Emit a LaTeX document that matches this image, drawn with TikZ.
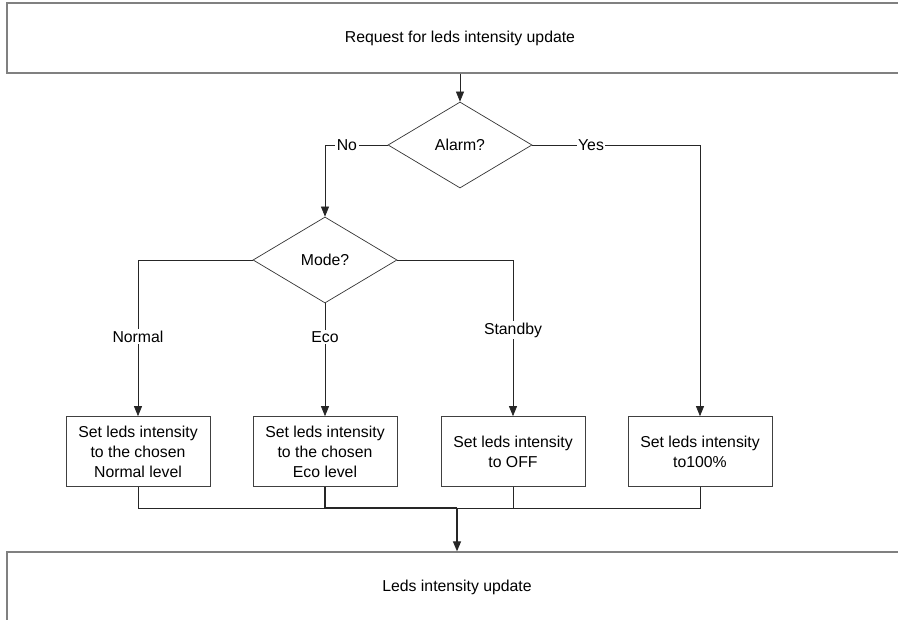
\documentclass[tikz,border=0pt]{standalone}
\usepackage{fontspec}
\setmainfont{Liberation Sans}
\usetikzlibrary{positioning,arrows.meta,shapes.geometric}

\begin{document}
\begin{tikzpicture}[
    x=1pt, y=-1pt,
    every node/.style={font=\fontsize{15.8}{20}\selectfont},
    banner/.style={rectangle, draw=black!50, line width=1.3pt, minimum height=70pt, inner sep=0pt},
    action/.style={rectangle, draw=black!75, line width=0.7pt, minimum width=144pt, minimum height=70pt, align=center, inner sep=2pt},
    decision/.style={diamond, draw=black!80, line width=0.7pt, minimum width=144pt, minimum height=86pt, inner sep=0pt},
    flow/.style={draw=black!85, line width=0.7pt},
    flowarrow/.style={flow, -{Triangle[width=8pt,length=10pt]}},
    lbl/.style={fill=white, inner sep=1.5pt},
]
\useasboundingbox (0,0) rectangle (898,620);
\clip (0,0) rectangle (898,620);

% Start and end
\node[banner, minimum width=906pt] (request) at (460,38) {Request for leds intensity update};
\node[banner, minimum width=900pt] (update) at (457,587) {Leds intensity update};

% Decisions
\node[decision] (alarm) at (460,145) {Alarm?};
\node[decision] (mode) at (325,260) {Mode?};

% Actions
\node[action] (normal) at (138,451.5) {Set leds intensity\\to the chosen\\Normal level};
\node[action] (eco) at (325,451.5) {Set leds intensity\\to the chosen\\Eco level};
\node[action] (standby) at (513,451.5) {Set leds intensity\\to OFF};
\node[action] (full) at (700,451.5) {Set leds intensity\\to100\%};

% Bends
\coordinate (nobend) at (325,145);
\coordinate (yesbend) at (700,145);
\coordinate (normbend) at (138,260);
\coordinate (stbybend) at (513,260);
\coordinate (join) at (457,508);

% Connections
\draw[flowarrow] (request.south) -- (alarm.north);
\draw[flowarrow] (alarm.west) -- node[lbl, pos=0.65] {No} (nobend) -- (mode.north);
\draw[flowarrow] (alarm.east) -- node[lbl, pos=0.35] {Yes} (yesbend) -- (full.north);
\draw[flowarrow] (mode.west) -- (normbend) -- node[lbl, pos=0.49] {Normal} (normal.north);
\draw[flowarrow] (mode.south) -- node[lbl, pos=0.3] {Eco} (eco.north);
\draw[flowarrow] (mode.east) -- (stbybend) -- node[lbl, pos=0.45] {Standby} (standby.north);

% Merge
\draw[flow] (normal.south) |- (join);
\draw[flow] (standby.south) |- (join);
\draw[flow] (full.south) |- (join);
\draw[flow, line width=1.3pt] (eco.south) |- (join);
\draw[flowarrow, line width=1.3pt] (join) -- (update.north);

\end{tikzpicture}
\end{document}
